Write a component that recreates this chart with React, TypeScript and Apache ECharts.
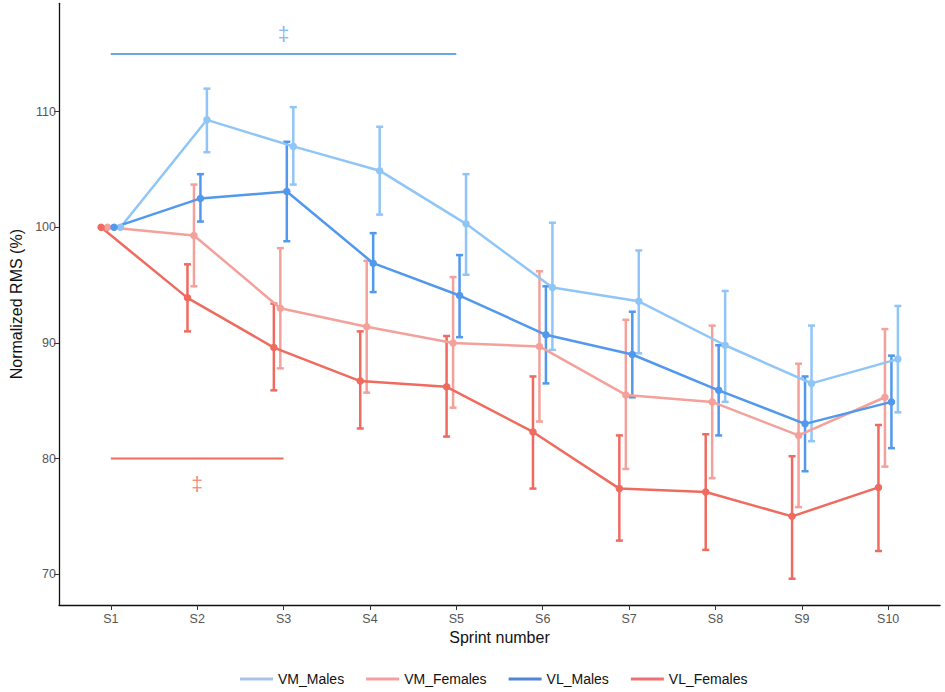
import React, { useEffect, useRef } from "react";
import * as echarts from "echarts";

const categories = ["S1", "S2", "S3", "S4", "S5", "S6", "S7", "S8", "S9", "S10"];
const groupNames = ["VM_Males", "VM_Females", "VL_Males", "VL_Females"];

const vmMalesMean = [100, 109.3, 107.0, 104.9, 100.3, 94.8, 93.6, 89.8, 86.5, 88.6];
const vmMalesLow = [100, 106.5, 103.7, 101.1, 95.9, 89.4, 89.1, 84.9, 81.5, 84.0];
const vmMalesHigh = [100, 112.0, 110.4, 108.7, 104.6, 100.4, 98.0, 94.5, 91.5, 93.2];

const vmFemalesMean = [100, 99.3, 93.0, 91.4, 90.0, 89.7, 85.5, 84.9, 82.0, 85.3];
const vmFemalesLow = [100, 94.9, 87.8, 85.7, 84.4, 83.2, 79.1, 78.3, 75.8, 79.3];
const vmFemalesHigh = [100, 103.7, 98.2, 97.1, 95.7, 96.2, 92.0, 91.5, 88.2, 91.2];

const vlMalesMean = [100, 102.5, 103.1, 96.9, 94.1, 90.7, 89.0, 85.9, 83.0, 84.9];
const vlMalesLow = [100, 100.5, 98.8, 94.4, 90.5, 86.5, 85.3, 82.0, 78.9, 80.9];
const vlMalesHigh = [100, 104.6, 107.4, 99.5, 97.6, 94.9, 92.7, 89.8, 87.1, 88.9];

const vlFemalesMean = [100, 93.9, 89.6, 86.7, 86.2, 82.3, 77.4, 77.1, 75.0, 77.5];
const vlFemalesLow = [100, 91.0, 85.9, 82.6, 81.9, 77.4, 72.9, 72.1, 69.6, 72.0];
const vlFemalesHigh = [100, 96.8, 93.4, 91.0, 90.6, 87.1, 82.0, 82.1, 80.2, 82.9];

const yTicks = [70, 80, 90, 100, 110];
const xTicks = [1, 2, 3, 4, 5, 6, 7, 8, 9, 10];

// significance annotations: [fromSprint, toSprint, level], symbol position [sprint, value]
const sigMales = [1, 5, 115];
const sigMalesMark = [3, 116.8];
const sigFemales = [1, 3, 80];
const sigFemalesMark = [2, 77.85];

const FONT = "Liberation Sans, Arial, Helvetica, sans-serif";

export default function App() {
  const ref = useRef<HTMLDivElement>(null);

  useEffect(() => {
    if (!ref.current) return;
    const chart = echarts.init(ref.current, undefined, { renderer: "svg" });

    const groups = [
      { name: groupNames[0], mean: vmMalesMean, low: vmMalesLow, high: vmMalesHigh, color: "#90c6f7", legend: "#a9c4ea", offset: 0.1125 },
      { name: groupNames[1], mean: vmFemalesMean, low: vmFemalesLow, high: vmFemalesHigh, color: "#f3a19a", legend: "#f4a0a0", offset: -0.0375 },
      { name: groupNames[2], mean: vlMalesMean, low: vlMalesLow, high: vlMalesHigh, color: "#5298ec", legend: "#4f86d6", offset: 0.0375 },
      { name: groupNames[3], mean: vlFemalesMean, low: vlFemalesLow, high: vlFemalesHigh, color: "#ef6b5f", legend: "#ef7070", offset: -0.1125 },
    ];

    const series: any[] = [];
    groups.forEach((g) => {
      const errData = categories
        .map((_, i) => [i + 1 + g.offset, g.low[i], g.high[i]])
        .filter((d) => d[2] > d[1]);
      series.push({
        name: g.name,
        type: "custom",
        z: 2,
        data: errData,
        encode: { x: 0, y: [1, 2] },
        renderItem: (params: any, api: any) => {
          const x = api.value(0);
          const lo = api.coord([x, api.value(1)]);
          const hi = api.coord([x, api.value(2)]);
          const hw = 3.5;
          const style = { stroke: g.color, lineWidth: 2.5 };
          return {
            type: "group",
            children: [
              { type: "line", shape: { x1: lo[0], y1: lo[1], x2: hi[0], y2: hi[1] }, style },
              { type: "line", shape: { x1: lo[0] - hw, y1: lo[1], x2: lo[0] + hw, y2: lo[1] }, style },
              { type: "line", shape: { x1: hi[0] - hw, y1: hi[1], x2: hi[0] + hw, y2: hi[1] }, style },
            ],
          };
        },
      });
    });
    groups.forEach((g) => {
      series.push({
        name: g.name,
        type: "line",
        z: 3,
        data: g.mean.map((v, i) => [i + 1 + g.offset, v]),
        symbol: "circle",
        symbolSize: 7.5,
        showSymbol: true,
        itemStyle: { color: g.color },
        lineStyle: { color: g.color, width: 2.5 },
      });
    });

    series.push({
      name: "sigMales",
      type: "line",
      data: [[sigMales[0], sigMales[2]], [sigMales[1], sigMales[2]]],
      symbol: "none",
      lineStyle: { color: "#6aa6e8", width: 2 },
      silent: true,
    });
    series.push({
      name: "sigFemales",
      type: "line",
      data: [[sigFemales[0], sigFemales[2]], [sigFemales[1], sigFemales[2]]],
      symbol: "none",
      lineStyle: { color: "#ef6b5f", width: 2 },
      silent: true,
    });
    series.push({
      name: "sigMarkMales",
      type: "scatter",
      data: [sigMalesMark],
      symbolSize: 0,
      label: { show: true, position: "inside", formatter: "‡", color: "#6aa6e8", fontSize: 21, fontFamily: FONT },
      silent: true,
    });
    series.push({
      name: "sigMarkFemales",
      type: "scatter",
      data: [sigFemalesMark],
      symbolSize: 0,
      label: { show: true, position: "inside", formatter: "‡", color: "#ef6b5f", fontSize: 21, fontFamily: FONT },
      silent: true,
    });

    chart.setOption({
      animation: false,
      backgroundColor: "#ffffff",
      textStyle: { fontFamily: FONT },
      grid: { left: 59, right: 5, top: 3.3, bottom: 87, containLabel: false },
      legend: {
        left: 235,
        top: 667,
        icon: "rect",
        itemWidth: 33,
        itemHeight: 3,
        itemGap: 22,
        textStyle: { fontSize: 14, color: "#111", fontFamily: FONT },
        selectedMode: false,
        data: groups.map((g) => ({ name: g.name, itemStyle: { color: g.legend } })),
      },
      xAxis: {
        type: "value",
        min: 0.4,
        max: 10.6,
        name: "Sprint number",
        nameLocation: "middle",
        nameGap: 24,
        nameTextStyle: { fontSize: 16, color: "#111", fontFamily: FONT },
        axisLine: { show: true, lineStyle: { color: "#111", width: 1.3 } },
        axisTick: { show: true, customValues: xTicks, length: 5, lineStyle: { color: "#333" } },
        axisLabel: {
          customValues: xTicks,
          formatter: (v: number) => categories[Math.round(v) - 1] ?? "",
          color: "#555",
          fontSize: 12.5,
          margin: 7,
          fontFamily: FONT,
        },
        splitLine: { show: false },
      },
      yAxis: {
        type: "value",
        min: 67.33,
        max: 119.38,
        name: "Normalized RMS (%)",
        nameLocation: "middle",
        nameGap: 35,
        nameRotate: 90,
        nameTextStyle: { fontSize: 16, color: "#111", fontFamily: FONT },
        axisLine: { show: true, lineStyle: { color: "#111", width: 1.3 } },
        axisTick: { show: true, customValues: yTicks, length: 5, lineStyle: { color: "#333" } },
        axisLabel: {
          customValues: yTicks,
          formatter: (v: number) => String(Math.round(v)),
          color: "#555",
          fontSize: 12.5,
          margin: 3,
          fontFamily: FONT,
        },
        splitLine: { show: false },
      },
      series,
    });

    return () => chart.dispose();
  }, []);

  return (
    <div
      ref={ref}
      style={{ position: "absolute", left: 0, top: 0, width: 945, height: 692, background: "#fff" }}
    />
  );
}
